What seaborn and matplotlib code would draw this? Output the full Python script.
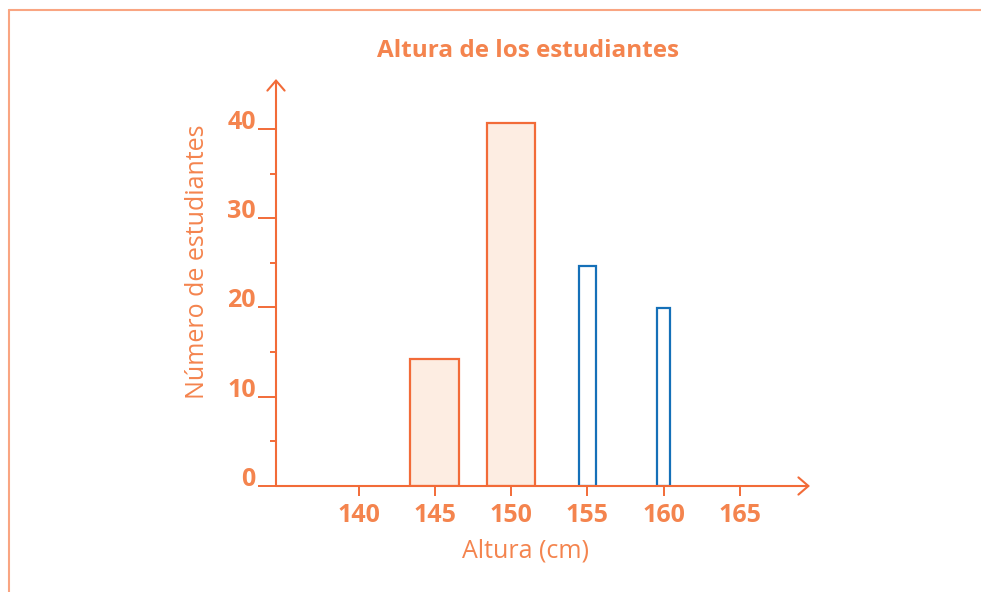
import numpy as np
import pandas as pd
import matplotlib
matplotlib.use('Agg')
import matplotlib.pyplot as plt
import seaborn as sns
from matplotlib.ticker import FixedLocator
from matplotlib.lines import Line2D

# datos
alturas = [145, 150, 155, 160]
estudiantes = [14.2, 40.7, 24.6, 19.9]
tipo = ['lleno', 'lleno', 'vacio', 'vacio']
ticks_x = [140, 145, 150, 155, 160, 165]
ticks_y = [0, 10, 20, 30, 40]
minor_y = [5, 15, 25, 35]

naranja = '#F26B38'
texto = '#F4844E'
relleno = '#FDEDE2'
azul = '#1570B8'
borde = '#F9A582'

sns.set_style('white')
plt.rcParams['font.family'] = ['Open Sans', 'DejaVu Sans']

df = pd.DataFrame({'altura': alturas, 'n': estudiantes, 'tipo': tipo})

fig = plt.figure(figsize=(9.81, 5.92), dpi=100)
ax = fig.add_axes([276/981, 1-486/592, (810-276)/981, (486-79)/592])

sns.barplot(data=df[df.tipo == 'lleno'], x='altura', y='n', native_scale=True,
            width=0.64, color=relleno, saturation=1, edgecolor=naranja,
            linewidth=1.6, errorbar=None, ax=ax)
sns.barplot(data=df[df.tipo == 'vacio'], x='altura', y='n', native_scale=True,
            width=0.2, color='white', saturation=1, edgecolor=azul,
            linewidth=1.6, errorbar=None, ax=ax)

# anchos un poco distintos de las barras azules
anchos = [3.2, 3.2, 1.1, 0.9]
for p, w in zip(ax.patches, anchos):
    c = p.get_x() + p.get_width() / 2
    p.set_width(w)
    p.set_x(c - w / 2)

ax.set_xlim(134.59, 169.60)
ax.set_ylim(0, 45.6)
sns.despine(ax=ax, left=True, bottom=True)
ax.set_xlabel('')
ax.set_ylabel('')

ax.set_xticks(ticks_x, labels=[str(v) for v in ticks_x])
ax.set_yticks(ticks_y, labels=[str(v) for v in ticks_y], va='baseline')
ax.yaxis.set_minor_locator(FixedLocator(minor_y))
ax.tick_params(axis='x', direction='out', length=7, width=1.4, color=naranja,
               labelsize=18, labelcolor=texto, pad=5, bottom=True)
ax.tick_params(axis='y', which='major', direction='out', length=13, width=1.4,
               color=naranja, labelsize=18, labelcolor=texto, pad=1.5, left=True)
ax.tick_params(axis='y', which='minor', direction='out', length=4.3, width=1.4,
               color=naranja, left=True)
for lbl in ax.get_xticklabels() + ax.get_yticklabels():
    lbl.set_fontweight('bold')

flecha = dict(arrowstyle='->,head_length=0.72,head_width=0.62', color=naranja,
              lw=1.5, shrinkA=0, shrinkB=0, mutation_scale=10)
ax.annotate('', xy=(1, 0), xytext=(0, 0), xycoords='axes fraction',
            arrowprops=flecha, annotation_clip=False)
ax.annotate('', xy=(0, 1), xytext=(0, 0), xycoords='axes fraction',
            arrowprops=flecha, annotation_clip=False)

fig.text(528/981, 1-57/592, 'Altura de los estudiantes', ha='center', va='baseline',
         fontsize=17.5, fontweight='bold', color=texto)
fig.text(525/981, 1-557/592, 'Altura (cm)', ha='center', va='baseline',
         fontsize=18, fontweight='normal', color=texto)
fig.text(197/981, 1-262/592, 'Número de estudiantes', ha='center', va='center',
         rotation=90, fontsize=18, fontweight='normal', color=texto)

# marco superior e izquierdo
fig.add_artist(Line2D([9/981, 1], [1-10/592, 1-10/592], color=borde, lw=1.5))
fig.add_artist(Line2D([9/981, 9/981], [0, 1-10/592], color=borde, lw=1.5))

fig.savefig('out.png', dpi=100)
